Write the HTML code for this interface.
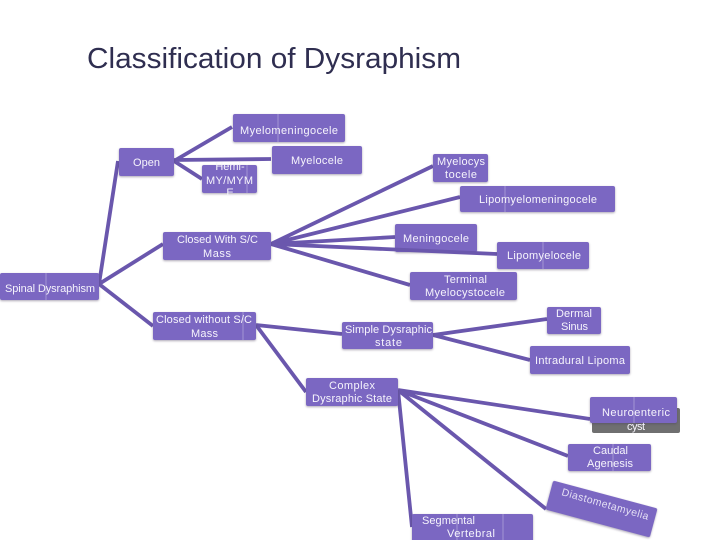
<!DOCTYPE html>
<html><head><meta charset="utf-8"><style>
html,body{margin:0;padding:0;background:#fff;width:720px;height:540px;overflow:hidden}
svg{display:block}
text{font-family:"Liberation Sans",sans-serif;font-size:11px;fill:#f6f4fc}
.b{fill:#7b67c2;filter:drop-shadow(0 1.5px 1px rgba(70,60,90,.45))}
.s{stroke:rgba(255,255,255,.3);stroke-width:1}
</style></head><body>
<svg width="720" height="540" viewBox="0 0 720 540" xmlns="http://www.w3.org/2000/svg">
<text x="87" y="68" style="font-size:28.5px;fill:#2f2e50" textLength="374" lengthAdjust="spacingAndGlyphs">Classification of Dysraphism</text>

<g stroke="#6a57ad" stroke-width="3.8" fill="none">
<path d="M99 284L118 161M99 284L163 244M99 284L153 326"/>
<path d="M174 161L232 127M174 160L271 159M174 161L202 179"/>
<path d="M271 244L433 166M271 244L460 197M271 244L395 237M271 244L410 285"/>
<path d="M256 325L342 334M256 325L306 392"/>
<path d="M433 335L547 319M433 335L530 360"/>
<path d="M398 390L590 419M398 390L568 456M398 390L546 509M398 390L412 527"/>
</g>

<rect x="592" y="408" width="88" height="25" rx="2" fill="#6f6f70"/>
<rect class="b" x="233" y="114" width="112" height="28" rx="2"/>
<rect class="b" x="119" y="148" width="55" height="28" rx="2"/>
<rect class="b" x="202" y="165" width="55" height="28" rx="2"/>
<rect class="b" x="272" y="146" width="90" height="28" rx="2"/>
<rect class="b" x="433" y="154" width="55" height="28" rx="2"/>
<rect class="b" x="460" y="186" width="155" height="26" rx="2"/>
<rect class="b" x="395" y="224" width="82" height="28" rx="2"/>
<path d="M271 244L497 254" stroke="#6a57ad" stroke-width="3.8" fill="none"/>
<rect class="b" x="497" y="242" width="92" height="27" rx="2"/>
<rect class="b" x="410" y="272" width="107" height="28" rx="2"/>
<rect class="b" x="0" y="273" width="99" height="27" rx="2"/>
<rect class="b" x="163" y="232" width="108" height="28" rx="2"/>
<rect class="b" x="153" y="312" width="103" height="28" rx="2"/>
<rect class="b" x="342" y="322" width="91" height="27" rx="2"/>
<rect class="b" x="306" y="378" width="92" height="28" rx="2"/>
<rect class="b" x="547" y="307" width="54" height="27" rx="2"/>
<rect class="b" x="530" y="346" width="100" height="28" rx="2"/>
<rect class="b" x="590" y="397" width="87" height="26" rx="2"/>
<rect class="b" x="568" y="444" width="83" height="27" rx="2"/>
<rect class="b" x="412" y="514" width="121" height="30" rx="2"/>
<rect class="b" x="547.5" y="494" width="108" height="30" rx="2" transform="rotate(15 601.5 509)"/>

<path class="s" d="M278 114V142M46 273V300M505 186V212M543 242V269M634 397V423M613 444V471M503 514V540M457 514V540M243 312V340M247 165V193"/>

<text x="240" y="134" textLength="98">Myelomeningocele</text>
<text x="133" y="166" textLength="27">Open</text>
<text x="230" y="170" text-anchor="middle">Hemi-</text>
<text x="206" y="184" textLength="47">MY/MYM</text>
<text x="230" y="196" text-anchor="middle">E</text>
<text x="291" y="164" textLength="52">Myelocele</text>
<text x="437" y="165" textLength="48">Myelocys</text>
<text x="445" y="178" textLength="32">tocele</text>
<text x="479" y="203" textLength="118">Lipomyelomeningocele</text>
<text x="403" y="242" textLength="66">Meningocele</text>
<text x="507" y="259" textLength="74">Lipomyelocele</text>
<text x="444" y="283" textLength="43">Terminal</text>
<text x="425" y="296" textLength="80">Myelocystocele</text>
<text x="5" y="292" textLength="90">Spinal Dysraphism</text>
<text x="177" y="243" textLength="81">Closed With S/C</text>
<text x="203" y="257" textLength="28">Mass</text>
<text x="156" y="323" textLength="96">Closed without S/C</text>
<text x="191" y="337" textLength="27">Mass</text>
<text x="345" y="333" textLength="87">Simple Dysraphic</text>
<text x="375" y="346" textLength="27">state</text>
<text x="329" y="389" textLength="46">Complex</text>
<text x="312" y="402" textLength="80">Dysraphic State</text>
<text x="556" y="317" textLength="36">Dermal</text>
<text x="561" y="330" textLength="27">Sinus</text>
<text x="535" y="364" textLength="90">Intradural Lipoma</text>
<text x="602" y="416" textLength="68">Neuroenteric</text>
<text x="627" y="430" textLength="18">cyst</text>
<text x="593" y="454" textLength="35">Caudal</text>
<text x="587" y="467" textLength="46">Agenesis</text>
<text x="422" y="524" textLength="53">Segmental</text>
<text x="447" y="537" textLength="48">Vertebral</text>
<text x="561" y="495" textLength="90" transform="rotate(16 561 495)" style="font-size:10.5px;fill:#e4dff4">Diastometamyelia</text>
</svg>
</body></html>
